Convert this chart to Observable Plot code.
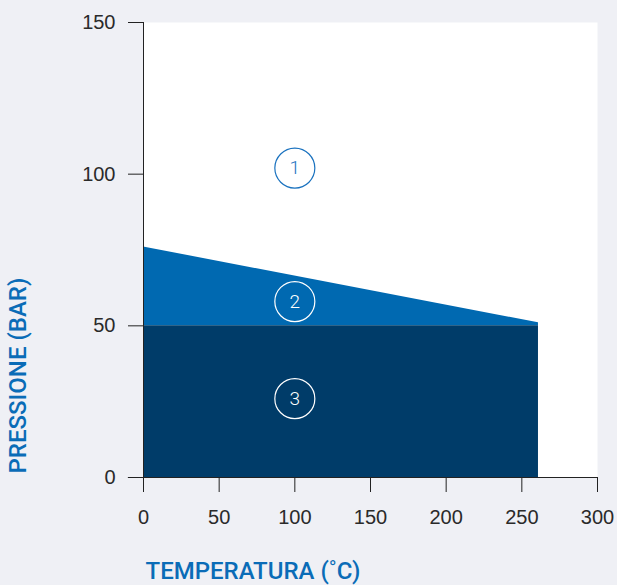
<!DOCTYPE html>
<html><head><meta charset="utf-8">
<script src="https://cdn.jsdelivr.net/npm/d3@7"></script>
<script src="https://cdn.jsdelivr.net/npm/@observablehq/plot@0.6"></script>
<style>
body{margin:0;background:#eff0f5;}
</style></head><body><div id="chart"></div>
<script>
const temps = [0, 261];
const pressMax = [76, 51];
const pressLimit = [50, 50];
const zoneLabels = ["1", "2", "3"];
const zoneT = [100, 100, 100];
const zoneP = [102, 58, 26];
const xTicks = [0, 50, 100, 150, 200, 250, 300];
const yTicks = [0, 50, 100, 150];
const xLabel = "TEMPERATURA (˚C)";
const yLabel = "PRESSIONE (BAR)";

const edge = temps.map((t, i) => ({t, p: pressMax[i], l: pressLimit[i]}));
const zones = zoneLabels.map((z, i) => ({z, t: zoneT[i], p: zoneP[i]}));

const font = "'Liberation Sans', Arial, Helvetica, sans-serif";
const labelFont = "Roboto, 'Liberation Sans', Arial, sans-serif";
const chart = Plot.plot({
  width: 617, height: 585,
  marginLeft: 143, marginRight: 20, marginTop: 22, marginBottom: 108,
  style: {background: "#eff0f5", fontFamily: font, fontSize: "20px", color: "#2a2a2a"},
  x: {domain: [0, 300]},
  y: {domain: [0, 150]},
  marks: [
    Plot.frame({fill: "white", stroke: "none"}),
    Plot.areaY(edge, {x: "t", y1: "l", y2: "p", fill: "#0069b1", curve: "linear"}),
    Plot.areaY(edge, {x: "t", y1: 0, y2: "l", fill: "#003c69", curve: "linear"}),
    Plot.axisX({ticks: xTicks, tickSize: 15, tickPadding: 17, label: null, stroke: "#222", fontSize: 20}),
    Plot.axisY({ticks: yTicks, tickSize: 15, tickPadding: 13, label: null, stroke: "#222", fontSize: 20}),
    Plot.ruleY([0], {x1: -10, x2: 300, stroke: "#222"}),
    Plot.ruleX([0], {y1: 0, y2: 150, stroke: "#222"}),
    Plot.dot(zones, {x: "t", y: "p", r: 20, fill: "none", strokeWidth: 1.2,
      stroke: d => d.z === "1" ? "#1a72bf" : "white"}),
    Plot.text(zones, {x: "t", y: "p", text: "z", fontSize: 19, fontWeight: 300, fontFamily: labelFont,
      fill: d => d.z === "1" ? "#1a72bf" : "white"}),
    Plot.text([xLabel], {frameAnchor: "bottom-left", dy: 101, dx: 2, textAnchor: "start",
      fill: "#0a6cb7", fontSize: 24, fontWeight: 500, fontFamily: labelFont,
      letterSpacing: "0.6px"}),
    Plot.text([yLabel], {frameAnchor: "bottom-left", dx: -118, dy: -4, rotate: -90, textAnchor: "start",
      fill: "#0a6cb7", fontSize: 24, fontWeight: 500, fontFamily: labelFont,
      letterSpacing: "0.6px"})
  ]
});
document.getElementById("chart").appendChild(chart);
</script></body></html>
